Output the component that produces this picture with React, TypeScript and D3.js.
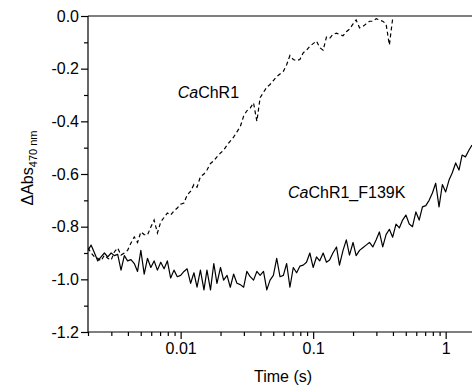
import React, { useEffect, useRef } from "react";
import * as d3 from "d3";

// sample times (s), shared by both traces
const times = [
  0.002, 0.00211, 0.00224, 0.00237, 0.00251, 0.00266, 0.00282, 0.00299, 0.00316, 0.00335,
  0.00355, 0.00376, 0.00398, 0.00422, 0.00447, 0.00473, 0.00501, 0.00531, 0.00562, 0.00596,
  0.00631, 0.00668, 0.00708, 0.0075, 0.00794, 0.00841, 0.00891, 0.00944,
  0.01, 0.0106, 0.0112, 0.0119, 0.0126, 0.0133, 0.0141, 0.015, 0.0158, 0.0168,
  0.0178, 0.0188, 0.02, 0.0211, 0.0224, 0.0237, 0.0251, 0.0266, 0.0282, 0.0299,
  0.0316, 0.0335, 0.0355, 0.0376, 0.0398, 0.0422, 0.0447, 0.0473, 0.0501, 0.0531,
  0.0562, 0.0596, 0.0631, 0.0668, 0.0708, 0.075, 0.0794, 0.0841, 0.0891, 0.0944,
  0.1, 0.106, 0.112, 0.119, 0.126, 0.133, 0.141, 0.15, 0.158, 0.168,
  0.178, 0.188, 0.2, 0.211, 0.224, 0.237, 0.251, 0.266, 0.282, 0.299,
  0.316, 0.335, 0.355, 0.376, 0.398, 0.422, 0.447, 0.473, 0.501, 0.531,
  0.562, 0.596, 0.631, 0.668, 0.708, 0.75, 0.794, 0.841, 0.891, 0.944,
  1, 1.06, 1.12, 1.19, 1.26, 1.33, 1.41, 1.5, 1.58,
];

// CaChR1 (dashed), ends at ~0.4 s
const wildType = [
  -0.88, -0.9, -0.915, -0.92, -0.93, -0.908, -0.92, -0.927, -0.896, -0.881,
  -0.908, -0.9, -0.89, -0.862, -0.839, -0.86, -0.82, -0.83, -0.832, -0.801,
  -0.775, -0.824, -0.782, -0.765, -0.748, -0.756, -0.74, -0.729, -0.715, -0.71,
  -0.68, -0.665, -0.64, -0.65, -0.61, -0.6, -0.585, -0.56, -0.55, -0.535,
  -0.52, -0.51, -0.49, -0.475, -0.46, -0.44, -0.42, -0.38, -0.36, -0.35,
  -0.33, -0.4, -0.31, -0.29, -0.27, -0.26, -0.245, -0.23, -0.22, -0.21,
  -0.185, -0.15, -0.165, -0.17, -0.165, -0.14, -0.13, -0.115, -0.105, -0.095,
  -0.12, -0.13, -0.08, -0.085, -0.07, -0.065, -0.07, -0.075, -0.06, -0.05,
  -0.03, -0.015, -0.045, -0.04, -0.03, -0.02, -0.02, -0.01, -0.015, -0.02,
  -0.03, -0.11, -0.01,
];

// CaChR1_F139K (solid)
const mutant = [
  -0.89, -0.87, -0.9, -0.93, -0.915, -0.9, -0.915, -0.9, -0.91, -0.905,
  -0.965, -0.91, -0.93, -0.925, -0.94, -0.97, -0.89, -0.98, -0.92, -0.955,
  -0.93, -0.965, -0.935, -0.96, -0.93, -0.995, -0.965, -0.99, -0.985, -0.97,
  -0.96, -1.015, -0.975, -1.03, -0.965, -1.04, -0.965, -1.04, -0.94, -1.015,
  -0.955, -1.003, -0.985, -1.03, -0.98, -1.015, -1.02, -1.03, -0.97, -0.99,
  -1.003, -0.97, -0.985, -0.97, -1.04, -1.003, -0.985, -0.92, -0.99, -0.985,
  -0.94, -1.03, -0.955, -0.975, -0.95, -0.946, -0.935, -0.9, -0.955, -0.915,
  -0.93, -0.9, -0.935, -0.927, -0.9, -0.877, -0.946, -0.89, -0.85, -0.908,
  -0.86, -0.91, -0.89, -0.88, -0.87, -0.86, -0.877, -0.85, -0.82, -0.877,
  -0.83, -0.81, -0.84, -0.79, -0.805, -0.775, -0.756, -0.79, -0.8, -0.744,
  -0.775, -0.725, -0.72, -0.7, -0.672, -0.635, -0.725, -0.64, -0.668, -0.623,
  -0.596, -0.558, -0.585, -0.528, -0.535, -0.509, -0.49,
];

const xMajor = [0.01, 0.1, 1];
const xMinor = [
  0.002, 0.003, 0.004, 0.005, 0.006, 0.007, 0.008, 0.009,
  0.02, 0.03, 0.04, 0.05, 0.06, 0.07, 0.08, 0.09,
  0.2, 0.3, 0.4, 0.5, 0.6, 0.7, 0.8, 0.9,
];
const yMajor = [0, -0.2, -0.4, -0.6, -0.8, -1.0, -1.2];
const yMinor = [-0.1, -0.3, -0.5, -0.7, -0.9, -1.1];

const FONT = "'Liberation Sans', Arial, sans-serif";

const App: React.FC = () => {
  const svgRef = useRef<SVGSVGElement | null>(null);
  const width = 472;
  const height = 392;
  const margin = { top: 16, right: 0, bottom: 60, left: 88 };

  useEffect(() => {
    const svg = d3.select(svgRef.current);
    svg.selectAll("*").remove();

    const x = d3.scaleLog().domain([0.002, 1.58]).range([margin.left, width - margin.right]);
    const y = d3.scaleLinear().domain([-1.2, 0]).range([height - margin.bottom, margin.top]);
    const x0 = margin.left;
    const x1 = width - margin.right;
    const y0 = height - margin.bottom;

    svg
      .append("defs")
      .append("clipPath")
      .attr("id", "plot-clip")
      .append("rect")
      .attr("x", x0)
      .attr("y", margin.top)
      .attr("width", x1 - x0)
      .attr("height", y0 - margin.top);

    const line = d3
      .line<number>()
      .x((_, i) => x(times[i]))
      .y((d) => y(d));

    const curves = svg.append("g").attr("clip-path", "url(#plot-clip)");
    curves
      .append("path")
      .attr("d", line(mutant))
      .attr("fill", "none")
      .attr("stroke", "#000")
      .attr("stroke-width", 1.2)
      .attr("stroke-linejoin", "round");
    curves
      .append("path")
      .attr("d", line(wildType))
      .attr("fill", "none")
      .attr("stroke", "#000")
      .attr("stroke-width", 1.2)
      .attr("stroke-dasharray", "4,3");

    const styleAxis = (g: d3.Selection<SVGGElement, unknown, null, undefined>) => {
      g.attr("font-family", FONT).attr("font-size", 16);
      g.selectAll("line").attr("stroke", "#000").attr("stroke-width", 1.2);
      g.selectAll("path").remove();
      g.selectAll("text").attr("fill", "#000");
    };

    // x axis
    svg
      .append("g")
      .attr("transform", `translate(0,${y0})`)
      .call(d3.axisBottom(x).tickValues(xMinor).tickSize(4).tickFormat(() => ""))
      .call(styleAxis);
    svg
      .append("g")
      .attr("transform", `translate(0,${y0})`)
      .call(
        d3
          .axisBottom(x)
          .tickValues(xMajor)
          .tickSize(7)
          .tickPadding(4)
          .tickFormat((d) => String(d))
      )
      .call(styleAxis);

    // y axis
    svg
      .append("g")
      .attr("transform", `translate(${x0},0)`)
      .call(d3.axisLeft(y).tickValues(yMinor).tickSize(4).tickFormat(() => ""))
      .call(styleAxis);
    svg
      .append("g")
      .attr("transform", `translate(${x0},0)`)
      .call(
        d3
          .axisLeft(y)
          .tickValues(yMajor)
          .tickSize(7)
          .tickPadding(2)
          .tickFormat((d) => (d as number).toFixed(1))
      )
      .call(styleAxis);

    // frame lines
    svg.append("line").attr("x1", x0).attr("x2", x1).attr("y1", y0).attr("y2", y0)
      .attr("stroke", "#000").attr("stroke-width", 1.2);
    svg.append("line").attr("x1", x0).attr("x2", x1).attr("y1", margin.top).attr("y2", margin.top)
      .attr("stroke", "#000").attr("stroke-width", 1.2);
    svg.append("line").attr("x1", x0).attr("x2", x0).attr("y1", margin.top).attr("y2", y0)
      .attr("stroke", "#000").attr("stroke-width", 1.2);

    // axis titles
    svg
      .append("text")
      .attr("x", (x0 + x1) / 2 + 3)
      .attr("y", 382)
      .attr("text-anchor", "middle")
      .attr("font-family", FONT)
      .attr("font-size", 16)
      .text("Time (s)");

    const yTitle = svg
      .append("text")
      .attr("transform", "translate(33,168) rotate(-90)")
      .attr("text-anchor", "middle")
      .attr("font-family", FONT)
      .attr("font-size", 16);
    yTitle.append("tspan").text("\u0394Abs");
    yTitle.append("tspan").attr("font-size", 11).attr("dy", 4).text("470 nm");

    // series labels
    const lab1 = svg
      .append("text")
      .attr("x", x(0.0095))
      .attr("y", y(-0.31))
      .attr("font-family", FONT)
      .attr("font-size", 16);
    lab1.append("tspan").attr("font-style", "italic").text("Ca");
    lab1.append("tspan").text("ChR1");

    const lab2 = svg
      .append("text")
      .attr("x", x(0.0646))
      .attr("y", y(-0.69))
      .attr("font-family", FONT)
      .attr("font-size", 16);
    lab2.append("tspan").attr("font-style", "italic").text("Ca");
    lab2.append("tspan").text("ChR1_F139K");
  }, []);

  return (
    <svg
      ref={svgRef}
      width={width}
      height={height}
      style={{ position: "absolute", left: 0, top: 0, background: "#fff" }}
    />
  );
};

export default App;
